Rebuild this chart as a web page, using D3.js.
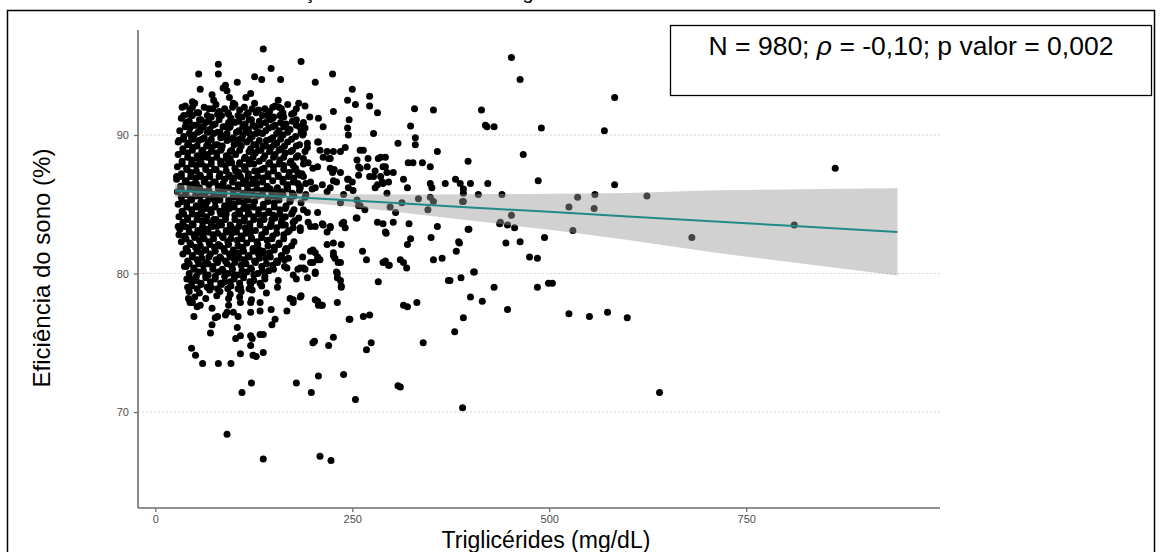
<!DOCTYPE html>
<html><head><meta charset="utf-8">
<script src="https://cdn.jsdelivr.net/npm/d3@7"></script>
<style>html,body{margin:0;padding:0;background:#fff;}svg{display:block;font-family:"Liberation Sans",Arial,sans-serif;}</style>
</head><body>
<svg id="c" width="1160" height="552"></svg>
<script>
// ---- data ----
const xTicks = [0, 250, 500, 750];
const yTicks = [70, 80, 90];
const xTitle = "Triglicérides (mg/dL)";
const yTitle = "Eficiência do sono (%)";
const chartTitle = "Correlação entre os níveis de triglicérides";
const annotN = "980", annotRho = "-0,10", annotP = "0,002";

// dense core of the cloud: [triglicérides, eficiência]
const pontosNucleo = [
[38,92.1],[50,92.3],[62,92.0],[77,92.2],[88,91.9],[101,92.2],[113,92.0],[126,92.3],[139,91.9],[152,92.1],[168,92.2],
[44,91.8],[55,91.6],[68,91.9],[81,91.7],[93,91.5],[107,91.8],[118,91.6],[131,91.8],[145,91.7],[160,91.9],[176,91.6],
[33,91.2],[47,91.4],[58,91.1],[71,91.3],[84,91.4],[96,91.2],[110,91.3],[122,91.1],[136,91.4],[149,91.2],[163,91.3],[179,91.1],[196,91.3],
[39,90.9],[52,90.7],[64,90.9],[76,90.8],[89,90.6],[101,90.9],[114,90.8],[127,90.6],[140,90.9],[152,90.7],[166,90.8],[183,90.6],
[31,90.3],[44,90.5],[57,90.3],[69,90.4],[82,90.2],[93,90.5],[106,90.3],[118,90.4],[131,90.2],[144,90.5],[157,90.3],[171,90.4],[190,90.5],
[36,89.9],[49,90.0],[62,89.8],[74,90.1],[86,89.9],[99,89.8],[111,90.0],[123,89.9],[136,90.1],[149,89.8],[162,90.0],[178,89.9],
[30,89.6],[42,89.4],[55,89.6],[67,89.5],[79,89.3],[91,89.6],[104,89.4],[116,89.5],[128,89.3],[141,89.6],[154,89.4],[168,89.5],[183,89.3],
[35,89.0],[47,89.1],[60,88.9],[72,89.1],[84,89.0],[97,88.9],[109,89.2],[121,89.0],[134,88.9],[147,89.1],[160,89.0],[174,88.9],
[29,88.6],[41,88.7],[53,88.5],[66,88.6],[78,88.7],[90,88.5],[102,88.6],[114,88.4],[127,88.7],[139,88.5],[152,88.6],[165,88.7],[181,88.5],
[34,88.1],[46,88.2],[58,88.0],[71,88.2],[83,88.1],[95,88.3],[107,88.0],[119,88.2],[132,88.1],[145,88.0],[158,88.2],[172,88.1],[188,88.3],
[28,87.7],[40,87.6],[52,87.8],[64,87.7],[77,87.5],[89,87.8],[101,87.6],[113,87.7],[125,87.9],[138,87.6],[150,87.7],[163,87.8],[178,87.6],
[33,87.2],[45,87.3],[57,87.1],[69,87.3],[82,87.2],[94,87.1],[106,87.3],[118,87.2],[130,87.4],[143,87.2],[156,87.1],[170,87.3],[186,87.2],
[27,86.8],[39,86.7],[51,86.9],[63,86.8],[76,86.6],[88,86.8],[100,86.9],[112,86.7],[124,86.8],[137,86.9],[149,86.7],[162,86.8],[176,86.9],
[32,86.3],[44,86.4],[56,86.2],[68,86.4],[80,86.3],[93,86.2],[105,86.4],[117,86.3],[129,86.5],[142,86.3],[155,86.2],[168,86.4],[183,86.3],[199,86.1],
[28,85.9],[38,85.8],[50,86.0],[62,85.9],[74,85.7],[87,85.9],[99,86.0],[111,85.8],[123,85.9],[136,86.0],[148,85.8],[161,85.9],[175,85.7],
[33,85.5],[45,85.4],[57,85.6],[69,85.4],[81,85.5],[93,85.3],[105,85.5],[117,85.4],[130,85.6],[143,85.4],[156,85.5],[171,85.3],[190,85.5],
[29,85.0],[40,85.1],[52,84.9],[64,85.0],[76,85.2],[88,84.9],[100,85.0],[112,85.1],[124,84.9],[137,85.0],[151,85.1],[166,84.9],
[34,84.5],[46,84.6],[58,84.4],[70,84.6],[82,84.5],[94,84.7],[106,84.5],[118,84.4],[131,84.6],[144,84.5],[158,84.6],[174,84.4],
[30,84.1],[41,84.0],[53,84.2],[65,84.1],[77,83.9],[89,84.1],[101,84.2],[113,84.0],[125,84.1],[138,84.2],[152,84.0],[165,84.1],[182,84.0],
[35,83.7],[47,83.6],[59,83.8],[71,83.6],[83,83.7],[95,83.5],[107,83.7],[120,83.6],[133,83.8],[147,83.6],[160,83.7],
[31,83.2],[42,83.3],[54,83.1],[66,83.2],[78,83.4],[90,83.1],[102,83.2],[114,83.3],[127,83.1],[140,83.2],[154,83.3],[170,83.1],
[37,82.7],[49,82.8],[61,82.6],[73,82.8],[85,82.7],[97,82.9],[109,82.7],[122,82.6],[135,82.8],[149,82.7],[163,82.8],
[33,82.3],[44,82.2],[56,82.4],[68,82.3],[80,82.1],[92,82.3],[104,82.4],[116,82.2],[129,82.3],[142,82.4],[157,82.2],[176,82.3],
[39,81.8],[51,81.9],[63,81.7],[75,81.9],[87,81.8],[99,81.7],[111,81.9],[124,81.8],[137,81.6],[151,81.9],[166,81.8],
[35,81.4],[47,81.3],[58,81.5],[70,81.4],[82,81.2],[94,81.4],[106,81.5],[118,81.3],[131,81.4],[145,81.5],[160,81.3],
[41,80.9],[53,81.0],[65,80.8],[77,81.0],[89,80.9],[101,80.8],[113,81.0],[126,80.9],[140,81.1],[154,80.9],
[37,80.5],[49,80.4],[61,80.6],[73,80.5],[85,80.3],[97,80.5],[109,80.6],[121,80.4],[135,80.5],[149,80.6],[167,80.4],
[43,80.0],[55,80.1],[67,79.9],[80,80.1],[92,80.0],[104,79.9],[116,80.1],[130,80.0],[144,80.2],
[40,79.6],[52,79.5],[64,79.7],[76,79.6],[88,79.4],[100,79.6],[112,79.7],[125,79.5],[139,79.6],[156,79.5],
[46,79.1],[58,79.2],[71,79.0],[84,79.2],[96,79.1],[108,79.0],[121,79.2],[135,79.1],
[43,78.7],[56,78.6],[69,78.8],[82,78.7],[95,78.5],[109,78.7],[123,78.8],[141,78.6],
[50,78.3],[64,78.2],[78,78.4],[93,78.2],[107,78.3],[122,78.1]
];
const pontosNucleo2 = [
[57,90.6],[70,90.2],[95,90.6],[120,90.1],[133,90.7],[48,89.7],[85,89.2],[110,89.7],[140,89.2],[60,88.4],[97,88.0],[124,88.4],
[75,87.5],[108,87.0],[135,87.5],[52,86.5],[87,86.1],[115,86.6],[146,86.1],[66,85.2],[99,85.7],[126,85.2],[58,84.8],[90,84.3],
[117,84.8],[74,83.9],[106,83.4],[138,83.9],[62,83.0],[96,82.5],[121,83.0],[82,82.0],[112,81.6],[68,81.2],[100,81.1],[132,81.7]
];
const pontosNucleo3 = [
[47,92.0],[73,91.9],[98,92.0],[123,91.9],[149,92.0],[179,91.9],
[42,91.5],[53,91.6],[66,91.4],[79,91.5],[92,91.6],[105,91.4],[116,91.5],[128,91.6],[143,91.5],[158,91.4],[173,91.5],
[43,91.0],[56,91.1],[68,91.0],[81,91.1],[93,90.9],[106,91.0],[119,91.1],[132,91.0],[146,91.1],[159,90.9],[174,91.0],
[38,90.6],[49,90.7],[61,90.6],[73,90.7],[86,90.6],[111,90.6],[124,90.7],[149,90.6],[163,90.6],[179,90.7],
[43,90.1],[54,90.2],[66,90.2],[79,90.2],[91,90.1],[103,90.2],[115,90.2],[128,90.1],[140,90.3],[154,90.1],[168,90.2],[185,90.2],
[36,89.7],[46,89.8],[59,89.7],[71,89.7],[83,89.8],[95,89.7],[107,89.7],[120,89.7],[132,89.6],[146,89.7],[159,89.7],[173,89.7],
[41,89.3],[53,89.2],[65,89.2],[76,89.3],[100,89.3],[125,89.3],[137,89.2],[151,89.3],[164,89.2],[179,89.2],
[35,88.8],[47,88.9],[59,88.8],[71,88.8],[83,88.9],[95,88.8],[107,88.9],[119,88.8],[131,88.9],[145,88.8],[157,88.9],[172,88.8],
[41,88.4],[53,88.3],[66,88.4],[78,88.4],[90,88.3],[113,88.3],[137,88.3],[150,88.4],[163,88.4],[179,88.4],
[34,87.9],[46,87.9],[58,87.9],[71,87.9],[83,87.9],[95,88.0],[107,87.9],[119,87.9],[144,87.9],[157,87.9],[171,88.0],[188,87.9],
[40,87.5],[52,87.4],[64,87.5],[90,87.4],[102,87.4],[114,87.5],[126,87.4],[150,87.4],[163,87.5],[177,87.5],
[33,87.0],[45,87.0],[57,87.0],[69,87.0],[81,87.0],[93,87.0],[105,87.1],[118,87.0],[130,87.0],[143,87.0],[156,87.0],[169,87.0],[184,87.1],
[38,86.6],[50,86.5],[62,86.6],[74,86.6],[86,86.5],[98,86.6],[111,86.5],[123,86.5],[136,86.6],[162,86.6],[175,86.6],[191,86.5],
[33,86.1],[44,86.1],[56,86.1],[68,86.0],[80,86.1],[105,86.1],[117,86.0],[129,86.1],[142,86.1],[155,86.0],[168,86.1],[183,86.0],
[39,85.7],[51,85.6],[63,85.7],[75,85.6],[87,85.7],[99,85.5],[111,85.6],[123,85.7],[136,85.7],[149,85.6],[162,85.7],[176,85.6],[191,85.7],
[34,85.2],[46,85.3],[58,85.2],[82,85.3],[94,85.1],[106,85.2],[118,85.3],[143,85.2],[157,85.3],[171,85.2],[185,85.1],
[40,84.8],[52,84.8],[64,84.7],[76,84.8],[88,84.7],[100,84.8],[112,84.7],[124,84.8],[137,84.8],[151,84.8],[165,84.7],
[36,84.3],[47,84.3],[59,84.3],[71,84.4],[83,84.3],[107,84.3],[119,84.3],[131,84.3],[144,84.4],[158,84.3],[173,84.3],
[41,83.9],[53,83.9],[65,83.8],[89,83.9],[101,83.9],[113,83.8],[125,83.9],[148,83.9],[161,83.9],[177,83.8],
[37,83.4],[48,83.5],[60,83.4],[72,83.4],[84,83.5],[96,83.4],[120,83.4],[133,83.5],[146,83.4],[160,83.5],
[43,83.0],[55,82.9],[67,83.0],[79,82.9],[91,83.0],[103,83.0],[115,82.9],[140,83.0],[154,82.9],[168,83.0],
[39,82.5],[50,82.6],[62,82.5],[74,82.5],[86,82.6],[110,82.5],[122,82.5],[135,82.6],[148,82.5],[163,82.5],
[45,82.1],[57,82.0],[69,82.1],[81,82.0],[93,82.1],[105,82.0],[130,82.1],[143,82.0],[157,82.1],[173,82.0],
[41,81.6],[53,81.6],[64,81.7],[76,81.6],[88,81.6],[100,81.5],[124,81.6],[137,81.5],[151,81.7],[166,81.6],
[47,81.2],[59,81.1],[83,81.1],[95,81.2],[107,81.1],[119,81.2],[132,81.1],[146,81.2],[160,81.1],
[43,80.7],[55,80.7],[67,80.7],[79,80.8],[91,80.7],[115,80.7],[127,80.8],[141,80.7],[155,80.8],
[49,80.3],[61,80.2],[73,80.3],[86,80.2],[98,80.3],[110,80.2],[122,80.3],[136,80.2],[150,80.3],
[52,79.8],[64,79.9],[76,79.8],[88,79.8],[100,79.9],[112,79.8],[125,79.9],[139,79.8],
[46,79.4],[58,79.3],[70,79.4],[83,79.3],[95,79.4],[107,79.3],[120,79.4],[133,79.3],
[53,78.9],[66,79.0],[79,78.9],[92,78.9],[105,78.9],[119,78.9]
];
const pontosDispersos = [
[137,96.2],[80,95.1],[80,94.4],[55,94.4],[185,95.3],[147,94.8],[126,94.2],[135,94.0],[159,94.0],[225,94.4],[203,93.8],[57,93.3],
[104,93.8],[89,93.6],[86,93.4],[91,93.2],[250,93.3],[121,93.0],[115,92.7],[72,92.9],[74,92.5],[94,92.7],[99,92.3],[47,92.4],
[34,92.0],[36,91.4],[29,89.5],[27,87.0],[244,92.5],[254,92.2],[272,92.8],[272,92.1],[282,91.6],[277,90.1],[207,91.2],[213,90.6],
[226,91.7],[182,92.3],[190,92.1],[156,92.5],[246,91.1],[244,90.5],[245,90.0],[329,91.9],[353,91.8],[414,91.8],[419,90.7],[421,90.6],
[430,90.6],[324,90.65],[330,89.8],[330,89.3],[308,89.4],[358,88.8],[321,88.0],[327,88.0],[339,88.0],[349,87.7],[397,88.1],[315,86.8],
[320,86.2],[349,86.5],[351,86.2],[368,86.5],[381,86.8],[387,86.5],[400,86.5],[422,86.5],[391,85.8],[410,85.7],[313,85.1],[334,85.4],
[349,85.5],[390,85.2],[452,95.6],[463,94.0],[490,90.5],[570,90.3],[583,92.7],[467,88.6],[391,86.1],[486,86.7],[583,86.4],[440,85.7],
[536,85.5],[558,85.7],[624,85.6],[525,84.8],[557,84.7],[863,87.6],[438,83.7],[447,83.5],[456,83.3],[452,84.2],[398,83.2],[530,83.1],
[681,82.6],[811,83.5],[494,82.6],[385,82.3],[382,81.6],[445,82.2],[463,82.3],[475,81.2],[485,81.1],[404,80.1],[374,79.5],[388,79.7],
[430,79.0],[485,79.0],[499,79.3],[504,79.3],[400,78.3],[415,78.0],[447,77.4],[391,76.8],[380,75.8],[525,77.1],[551,76.9],[574,77.2],
[599,76.8],[640,71.4],[390,70.3],
[193,89.4],[206,89.5],[209,88.9],[218,88.8],[220,88.3],[235,88.8],[241,89.1],[260,88.9],[264,88.9],[256,88.2],[270,88.3],[283,88.3],
[292,88.4],[260,87.6],[258,87.1],[279,87.4],[292,87.7],[294,87.3],[296,86.6],[288,86.6],[279,86.2],[200,87.6],[206,87.7],[222,87.6],
[225,87.3],[235,87.3],[230,86.6],[245,86.8],[250,86.6],[197,86.6],[203,86.2],[212,86.4],[218,85.9],[222,86.2],[175,87.8],[181,87.3],
[188,87.0],[181,86.5],[184,86.2],[239,85.7],[256,85.3],[260,84.9],[266,84.6],[298,84.8],[305,84.4],[150,84.2],[162,83.5],[175,83.7],
[184,83.3],[194,83.7],[203,83.4],[212,83.6],[218,83.0],[222,83.3],[239,83.7],[256,84.0],[282,83.7],[292,83.0],[302,83.7],[188,90.9],
[188,90.1],[187,90.0],[157,92.0],[162,91.6],[150,91.3],[142,91.4],[226,88.8],[222,88.3],[227,87.5],[207,89.5],[213,88.4],[193,89.1],
[190,88.8],[194,88.0],[167,86.3],[174,85.8],[226,86.7],[244,86.8],[245,86.2],[251,86.0],[277,87.0],[282,86.4],[289,86.5],[294,85.8],
[269,87.7],[272,87.0],[286,87.0],[302,87.3],[258,87.7],[286,88.4],[289,87.7],
[293,82.9],[263,81.6],[268,81.0],[292,80.9],[297,80.6],[283,79.4],[218,82.1],[236,82.1],[197,81.6],[203,81.5],[206,81.0],[197,80.8],
[200,80.8],[226,81.5],[228,81.1],[235,80.8],[187,81.2],[184,80.4],[190,80.3],[203,80.0],[230,80.1],[231,79.7],[235,79.5],[236,79.0],
[175,79.9],[179,79.6],[164,81.0],[164,80.5],[167,81.7],[155,79.0],[171,78.2],[175,77.9],[185,78.4],[206,78.0],[211,77.7],[231,77.9],
[167,77.3],[152,76.7],[148,76.3],[147,77.4],[246,76.7],[264,76.9],[272,77.0],[202,75.1],[226,75.4],[220,74.8],[274,75.0],[268,74.5],
[137,75.6],[137,74.3],[207,72.6],[179,72.1],[198,71.4],[239,72.7],[254,70.9],[308,71.9],[137,66.6],[209,66.8],[223,66.5],[91,68.4],
[110,71.4],[122,72.1],[46,74.6],[51,74.1],[60,73.5],[80,73.5],[96,73.5],[108,74.2],[124,74.1],[128,74.0],[121,74.8],[123,75.3],
[121,75.5],[133,75.6],[104,76.1],[102,75.3],[108,75.5],[70,75.7],[72,76.3],[76,76.8],[79,76.9],[49,76.9],[89,77.0],[91,77.2],
[99,77.2],[105,76.9],[121,77.2],[133,77.3],[44,77.9],[57,77.7],[72,77.5],[93,77.7],[108,77.9],[121,77.9],[133,77.9],[29,83.4],
[30,82.8],[39,80.5],[45,79.6],[41,79.0],[42,78.2],[47,77.9],[53,77.6],[311,81.0],[315,80.8],[319,80.4],[315,77.7],[320,77.6],
[332,77.9],[340,75.0],[311,71.8],[320,82.1],[324,82.5],[322,83.6],[350,82.6],[358,83.4],[353,81.0],[364,81.1],[372,79.5],[386,82.2],
[405,80.1],[397,83.2],[437,83.6],[346,84.6],[353,85.2],[391,85.2],[255,84.0],[237,83.6],[241,83.3],[235,85.1],[258,84.9],[176,84.6],
[188,84.6],[193,84.4],[206,84.4],[165,83.5],[175,83.3],[184,83.1],[197,83.4],[165,81.7],[169,81.1],[181,80.3],[188,80.4],[193,79.7],
[200,81.7],[206,81.2],[209,81.0],[203,80.1],[226,82.2],[226,81.3],[232,80.8],[222,83.4],[213,83.5],[289,83.6],[289,80.8],[296,80.6],
[231,80.0],[236,79.1],[247,76.7],[203,78.1],[207,77.7],[212,77.7],[175,78.1],[184,78.3],[200,75.0]
];

// fitted line and its confidence band
const ajusteX = [25, 100, 200, 300, 400, 500, 600, 700, 800, 942];
const ajusteY = [86.0, 85.75, 85.43, 85.1, 84.77, 84.45, 84.12, 83.79, 83.46, 83.0];
const bandaInf = [85.55, 85.45, 85.08, 84.5, 83.82, 83.15, 82.42, 81.59, 80.86, 79.85];
const bandaSup = [86.45, 86.05, 85.78, 85.7, 85.72, 85.75, 85.82, 85.99, 86.06, 86.15];

// ---- drawing ----
const svg = d3.select("#c");
const L = 138, R = 940, T = 30, B = 508;
const x = d3.scaleLinear().domain([-22, 996]).range([L, R]);
const y = d3.scaleLinear().domain([63.07, 97.58]).range([B, T]);

// title of the figure, cut by the top edge as in the original
svg.append("text").attr("x", 239).attr("y", -1).attr("font-size", 20).attr("fill", "#000").text(chartTitle);

// outer frame
svg.append("rect").attr("x", 7.5).attr("y", 10.5).attr("width", 1147).attr("height", 545)
  .attr("fill", "none").attr("stroke", "#000").attr("stroke-width", 1.5);

// grid
svg.append("g").selectAll("line").data(yTicks).join("line")
  .attr("x1", L).attr("x2", R).attr("y1", d => y(d)).attr("y2", d => y(d))
  .attr("stroke", "#d4d4d4").attr("stroke-width", 1.2).attr("stroke-dasharray", "2,2");

// points
const all = pontosNucleo.concat(pontosNucleo2, pontosNucleo3, pontosDispersos);
svg.append("g").selectAll("circle").data(all).join("circle")
  .attr("cx", d => x(d[0])).attr("cy", d => y(d[1])).attr("r", 3.5).attr("fill", "#000");

// confidence band + line
const band = ajusteX.map((v, i) => ({x: v, lo: bandaInf[i], hi: bandaSup[i], m: ajusteY[i]}));
svg.append("path").datum(band)
  .attr("d", d3.area().x(d => x(d.x)).y0(d => y(d.lo)).y1(d => y(d.hi)).curve(d3.curveMonotoneX))
  .attr("fill", "#999").attr("fill-opacity", 0.45);
svg.append("path").datum(band)
  .attr("d", d3.line().x(d => x(d.x)).y(d => y(d.m)))
  .attr("fill", "none").attr("stroke", "#22898a").attr("stroke-width", 2);

// axes
const axCol = "#6e6e6e";
const gx = svg.append("g").attr("transform", `translate(0,${B})`)
  .call(d3.axisBottom(x).tickValues(xTicks).tickSize(4).tickPadding(3));
const gy = svg.append("g").attr("transform", `translate(${L},0)`)
  .call(d3.axisLeft(y).tickValues(yTicks).tickSize(4).tickPadding(5));
[gx, gy].forEach(g => {
  g.select(".domain").remove();
  g.selectAll(".tick line").attr("stroke", axCol).attr("stroke-width", 1.3);
  g.selectAll(".tick text").attr("fill", "#4d4d4d").attr("font-size", 11)
    .attr("font-family", "Liberation Sans, Arial, sans-serif");
});
svg.append("line").attr("x1", L).attr("x2", L).attr("y1", T).attr("y2", B).attr("stroke", axCol).attr("stroke-width", 1.6);
svg.append("line").attr("x1", L).attr("x2", R).attr("y1", B).attr("y2", B).attr("stroke", axCol).attr("stroke-width", 1.6);

// axis titles
svg.append("text").attr("x", 546).attr("y", 547.5).attr("text-anchor", "middle")
  .attr("font-size", 23).attr("fill", "#000").text(xTitle);
svg.append("text").attr("transform", "translate(50,268) rotate(-90)").attr("text-anchor", "middle")
  .attr("font-size", 24).attr("fill", "#000").text(yTitle);

// annotation box
svg.append("rect").attr("x", 670.5).attr("y", 25.5).attr("width", 481).attr("height", 70)
  .attr("fill", "#fff").attr("stroke", "#000").attr("stroke-width", 1.3);
const t = svg.append("text").attr("x", 911).attr("y", 55).attr("text-anchor", "middle")
  .attr("font-size", 26.5).attr("fill", "#000");
t.append("tspan").text(`N = ${annotN}; `);
t.append("tspan").attr("font-style", "italic").text("ρ");
t.append("tspan").text(` = ${annotRho}; p valor = ${annotP}`);
</script>
</body></html>
